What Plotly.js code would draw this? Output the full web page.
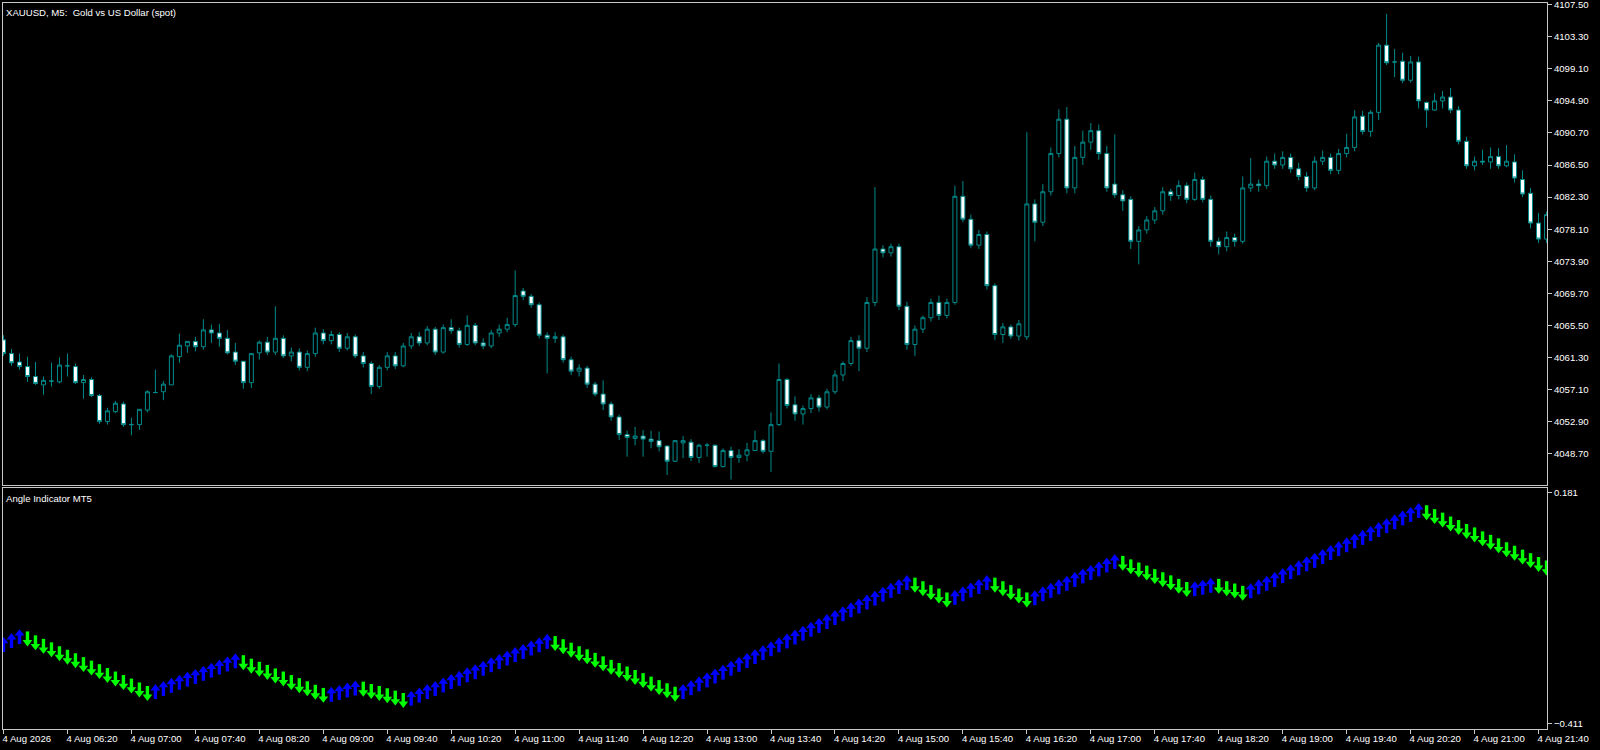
<!DOCTYPE html>
<html><head><meta charset="utf-8">
<script src="https://cdn.plot.ly/plotly-3.0.1.min.js"></script>
<style>html,body{margin:0;padding:0;background:#000;}#chart{width:1600px;height:750px;}</style>
</head><body><div id="chart"></div>
<script>
// ---- data ----
const openP = [4063.6,4061.8,4060.7,4060.1,4058.8,4057.7,4058.2,4058.1,4060.2,4060.1,4058.0,4058.4,4056.3,4052.9,4054.2,4055.2,4052.5,4052.5,4054.4,4056.7,
4056.8,4057.7,4061.4,4062.8,4063.4,4062.7,4064.9,4064.5,4063.8,4062.0,4060.8,4058.0,4061.9,4063.3,4062.0,4063.8,4061.5,4062.0,4060.0,4061.8,
4064.5,4063.5,4064.3,4062.5,4064.0,4061.5,4060.5,4057.5,4060.0,4061.5,4060.2,4062.8,4064.0,4063.2,4065.0,4062.0,4065.2,4064.8,4063.0,4065.5,
4063.2,4062.8,4064.5,4065.0,4065.6,4070.0,4069.3,4068.2,4064.2,4063.8,4064.0,4061.0,4059.5,4059.9,4057.8,4056.5,4055.2,4053.5,4051.2,4050.7,
4051.0,4050.6,4050.4,4049.7,4047.7,4050.1,4050.2,4048.2,4049.8,4049.8,4047.0,4049.1,4048.2,4048.5,4049.1,4050.4,4049.0,4052.5,4058.4,4055.1,
4053.9,4054.6,4056.0,4054.8,4056.8,4059.0,4060.5,4063.5,4062.5,4068.5,4075.5,4075.0,4075.8,4068.0,4063.0,4065.0,4066.5,4068.5,4066.8,4068.5,
4082.4,4079.4,4076.0,4077.4,4070.7,4064.3,4065.3,4064.1,4064.0,4081.4,4079.0,4083.0,4088.0,4092.5,4083.5,4087.5,4089.5,4091.0,4088.0,4084.0,
4082.6,4082.0,4076.5,4078.0,4079.3,4080.5,4083.0,4082.5,4083.8,4082.0,4084.6,4082.0,4076.5,4075.8,4077.0,4076.5,4083.5,4084.0,4083.8,4087.0,
4086.5,4087.5,4086.0,4085.0,4083.5,4087.0,4087.5,4085.8,4088.0,4088.8,4092.9,4090.9,4093.4,4102.2,4100.0,4100.1,4097.6,4100.0,4094.7,4093.7,
4094.9,4095.4,4093.7,4089.6,4086.4,4087.0,4086.9,4087.6,4086.4,4086.9,4084.6,4082.8,4078.9,4076.8];
const highP = [4064.2,4062.4,4061.8,4061.4,4060.7,4058.8,4060.6,4061.3,4061.8,4060.5,4059.0,4058.7,4056.5,4054.7,4055.6,4055.5,4053.4,4054.5,4057.0,4059.7,
4058.2,4061.7,4064.4,4063.4,4064.0,4066.3,4065.6,4065.7,4064.9,4063.2,4060.8,4061.8,4063.5,4064.0,4068.0,4064.2,4062.6,4062.5,4062.2,4065.2,
4065.0,4064.8,4064.6,4064.5,4064.3,4062.0,4060.8,4060.3,4062.0,4062.0,4063.2,4064.5,4064.6,4065.4,4065.3,4065.6,4066.3,4065.2,4066.8,4065.8,
4063.8,4064.9,4065.6,4066.5,4072.7,4070.4,4069.6,4068.5,4064.6,4064.6,4064.3,4061.4,4060.4,4060.2,4058.1,4058.3,4055.5,4053.8,4051.7,4052.2,
4051.8,4051.7,4051.6,4049.7,4050.5,4051.0,4050.6,4050.0,4050.1,4049.9,4049.4,4049.6,4049.3,4050.1,4051.7,4050.6,4054.1,4060.5,4058.6,4056.2,
4055.0,4056.5,4056.4,4057.2,4059.6,4060.8,4064.0,4064.2,4069.2,4083.6,4076.0,4076.2,4076.2,4068.6,4065.5,4066.8,4069.0,4069.4,4069.0,4083.8,
4084.4,4080.0,4078.0,4077.8,4071.0,4065.8,4065.6,4066.2,4090.8,4082.0,4084.0,4088.8,4093.8,4094.1,4089.0,4091.0,4092.0,4091.8,4089.0,4090.5,
4083.2,4082.4,4078.5,4079.8,4081.0,4083.6,4083.4,4084.5,4084.2,4085.5,4085.0,4082.5,4077.0,4077.8,4077.5,4085.0,4087.4,4084.6,4087.6,4088.0,
4088.3,4088.0,4086.8,4085.6,4087.6,4088.4,4088.0,4088.6,4090.6,4093.7,4093.6,4093.7,4102.5,4106.3,4101.7,4101.2,4100.8,4100.7,4094.8,4095.9,
4096.2,4096.6,4094.2,4090.2,4087.6,4088.5,4088.8,4088.7,4089.1,4087.9,4085.8,4083.5,4080.2,4080.4];
const lowP = [4061.5,4060.2,4059.7,4058.1,4057.7,4056.4,4057.5,4057.9,4058.8,4057.8,4055.9,4056.1,4052.6,4052.5,4054.0,4052.2,4051.1,4051.8,4054.1,4056.6,
4055.7,4057.7,4060.6,4061.9,4062.1,4062.3,4063.2,4062.7,4061.7,4060.3,4057.2,4057.3,4061.0,4061.6,4061.6,4061.2,4060.8,4059.6,4059.5,4061.4,
4063.0,4063.0,4062.0,4062.2,4061.2,4060.0,4056.5,4057.2,4059.6,4059.8,4060.0,4062.4,4062.8,4062.9,4061.6,4061.8,4064.4,4062.6,4062.8,4062.9,
4062.4,4062.5,4064.0,4064.6,4065.3,4068.8,4067.8,4063.8,4059.2,4063.2,4060.6,4059.0,4058.8,4057.3,4056.2,4054.4,4053.0,4050.5,4048.3,4049.8,
4048.3,4049.4,4049.0,4045.9,4047.6,4048.1,4047.7,4047.5,4048.3,4046.9,4046.9,4045.3,4047.5,4047.7,4049.1,4048.7,4046.3,4052.3,4054.6,4053.0,
4052.5,4054.0,4054.2,4054.5,4056.5,4058.2,4060.2,4059.5,4062.0,4068.0,4074.4,4074.5,4067.5,4062.3,4061.5,4064.5,4066.0,4066.2,4066.4,4068.2,
4079.0,4075.6,4075.5,4070.2,4063.6,4063.2,4063.7,4063.5,4063.6,4076.5,4078.5,4082.5,4087.5,4082.8,4082.8,4086.5,4088.5,4087.2,4083.0,4082.2,
4080.5,4075.5,4073.5,4077.5,4078.8,4080.0,4081.8,4082.0,4081.5,4081.8,4081.6,4075.8,4074.8,4075.2,4075.8,4076.2,4083.0,4083.0,4083.4,4086.0,
4086.0,4085.5,4084.5,4083.0,4083.2,4086.5,4085.3,4085.3,4087.5,4088.3,4090.5,4090.2,4092.4,4099.6,4098.0,4097.2,4097.3,4093.9,4091.4,4093.6,
4093.9,4093.3,4089.2,4086.0,4085.8,4086.5,4086.0,4086.0,4086.2,4084.2,4082.3,4078.2,4076.3,4076.3];
const closeP = [4061.8,4060.6,4060.1,4058.8,4057.9,4058.3,4058.2,4060.3,4060.2,4058.0,4058.4,4056.3,4052.9,4054.3,4055.3,4052.5,4052.5,4054.5,4056.8,4056.7,
4057.8,4061.5,4062.9,4063.4,4062.7,4064.9,4064.5,4063.8,4061.9,4060.8,4058.0,4061.8,4063.3,4062.0,4063.8,4061.5,4062.0,4060.0,4061.8,4064.5,
4063.5,4064.3,4062.5,4064.0,4061.5,4060.5,4057.5,4060.0,4061.5,4060.2,4062.8,4064.0,4063.2,4065.0,4062.0,4065.2,4064.8,4063.0,4065.5,4063.2,
4062.8,4064.5,4065.0,4065.6,4069.4,4069.3,4068.2,4064.2,4063.8,4064.0,4061.0,4059.5,4059.9,4057.8,4056.5,4055.2,4053.5,4051.2,4050.8,4051.0,
4050.6,4050.3,4049.6,4047.7,4050.4,4050.4,4048.2,4049.8,4049.8,4047.0,4049.1,4048.2,4048.5,4049.2,4050.4,4049.0,4052.5,4058.4,4055.0,4053.9,
4054.6,4056.0,4054.8,4056.8,4059.0,4060.5,4063.5,4062.5,4068.5,4075.5,4075.0,4075.8,4068.0,4063.0,4065.0,4066.5,4068.5,4066.8,4068.5,4082.4,
4079.4,4076.0,4077.4,4070.7,4064.3,4065.3,4064.1,4065.7,4081.4,4079.0,4083.0,4088.0,4092.5,4083.5,4087.5,4089.5,4091.0,4088.0,4083.5,4082.6,
4081.8,4076.5,4078.0,4079.3,4080.5,4083.0,4082.5,4083.8,4082.0,4084.6,4082.0,4076.5,4075.8,4077.0,4076.5,4083.5,4084.0,4083.8,4087.0,4086.5,
4087.5,4086.0,4085.0,4083.5,4087.0,4087.5,4085.8,4088.0,4088.8,4092.8,4090.9,4093.4,4102.2,4099.9,4100.0,4097.6,4100.0,4094.9,4093.7,4094.9,
4095.4,4093.7,4089.6,4086.4,4087.0,4086.9,4087.6,4086.4,4087.0,4084.8,4082.7,4078.9,4076.8,4080.0];
const angleVals = [-0.207,-0.197,-0.187,
-0.196,-0.206,-0.215,-0.224,-0.234,-0.243,-0.252,-0.262,-0.271,-0.280,-0.290,-0.299,-0.308,-0.317,-0.327,-0.336,
-0.328,-0.320,-0.312,-0.304,-0.296,-0.289,-0.281,-0.273,-0.265,-0.257,-0.249,
-0.257,-0.266,-0.274,-0.282,-0.291,-0.299,-0.308,-0.316,-0.324,-0.333,-0.341,
-0.335,-0.330,-0.324,-0.319,
-0.325,-0.331,-0.336,-0.342,-0.348,-0.354,
-0.345,-0.337,-0.328,-0.320,-0.311,-0.302,-0.294,-0.285,-0.277,-0.268,-0.259,-0.251,-0.242,-0.233,-0.225,-0.216,-0.208,-0.199,
-0.208,-0.216,-0.225,-0.234,-0.242,-0.251,-0.260,-0.269,-0.277,-0.286,-0.295,-0.303,-0.312,-0.321,-0.329,-0.338,
-0.328,-0.318,-0.308,-0.298,-0.288,-0.278,-0.268,-0.258,-0.248,-0.238,-0.228,-0.218,-0.208,-0.198,-0.188,-0.178,-0.168,-0.158,-0.148,-0.138,-0.128,-0.118,-0.108,-0.098,-0.088,-0.078,-0.068,-0.058,-0.048,
-0.058,-0.067,-0.077,-0.086,-0.096,
-0.086,-0.077,-0.067,-0.058,-0.048,
-0.058,-0.067,-0.077,-0.086,-0.096,
-0.087,-0.077,-0.068,-0.059,-0.050,-0.040,-0.031,-0.022,-0.013,-0.003,0.006,
-0.002,-0.011,-0.019,-0.027,-0.036,-0.044,-0.052,-0.061,-0.069,
-0.064,-0.060,-0.055,
-0.061,-0.067,-0.073,-0.079,
-0.069,-0.059,-0.050,-0.040,-0.030,-0.020,-0.010,0.000,0.009,0.019,0.029,0.039,0.049,0.059,0.068,0.078,0.088,0.098,0.108,0.118,0.127,0.137,
0.128,0.118,0.109,0.099,0.090,0.080,0.071,0.061,0.052,0.043,0.033,0.024,0.014,0.005,-0.005,-0.014];
const tickBars = [0,8,16,24,32,40,48,56,64,72,80,88,96,104,112,120,128,136,144,152,160,168,176,184,192];
const tickLabels = ['4 Aug 2026','4 Aug 06:20','4 Aug 07:00','4 Aug 07:40','4 Aug 08:20','4 Aug 09:00','4 Aug 09:40','4 Aug 10:20',
'4 Aug 11:00','4 Aug 11:40','4 Aug 12:20','4 Aug 13:00','4 Aug 13:40','4 Aug 14:20','4 Aug 15:00','4 Aug 15:40','4 Aug 16:20',
'4 Aug 17:00','4 Aug 17:40','4 Aug 18:20','4 Aug 19:00','4 Aug 19:40','4 Aug 20:20','4 Aug 21:00','4 Aug 21:40'];
const priceTicks = [4107.5,4103.3,4099.1,4094.9,4090.7,4086.5,4082.3,4078.1,4073.9,4069.7,4065.5,4061.3,4057.1,4052.9,4048.7];
const angleTicks = [0.181,-0.411];
const chartTitle = 'XAUUSD, M5:  Gold vs US Dollar (spot)';
const paneTitle = 'Angle Indicator MT5';

// ---- styling / geometry ----
const W = 1600, H = 750;
const M = {l: 3, r: 53, t: 3, b: 21};
const plotH = H - M.t - M.b;
const mainBottomPx = 485, indTopPx = 488;
const yRange = [4044.59, 4107.72];
const y2Range = [-0.4257, 0.1931];
const FG = '#C8C8C8', TEAL = '#008B8B', BLUE = '#0000FF', GREEN = '#00FF00';
const FONT = {family: 'Liberation Sans, Arial, sans-serif', size: 9.6, color: '#FFFFFF'};

const idx = closeP.map((_, i) => i);
const unitPerPx = (y2Range[1] - y2Range[0]) / (H - M.b - indTopPx);

const up = [], dn = [];
angleVals.forEach((v, i) => {
  if (i === 0 || v > angleVals[i - 1]) up.push(i); else dn.push(i);
});
function arrowTraces(list, color, isUp) {
  const s = isUp ? 1 : -1;
  return [
    {type: 'scatter', mode: 'markers', xaxis: 'x2', yaxis: 'y2', hoverinfo: 'skip',
     x: list, y: list.map(i => angleVals[i] - s * 2.5 * unitPerPx),
     marker: {symbol: 'line-ns', size: 8, line: {color: color, width: 3.4}}},
    {type: 'scatter', mode: 'markers', xaxis: 'x2', yaxis: 'y2', hoverinfo: 'skip',
     x: list, y: list.map(i => angleVals[i] + s * 2.6 * unitPerPx),
     marker: {symbol: isUp ? 'triangle-up' : 'triangle-down', size: 8.5, color: color, line: {width: 0}}}
  ];
}

const traces = [
  {type: 'candlestick', x: idx, open: openP, high: highP, low: lowP, close: closeP,
   xaxis: 'x', yaxis: 'y', hoverinfo: 'skip', whiskerwidth: 0,
   increasing: {line: {color: TEAL, width: 1}, fillcolor: '#000000'},
   decreasing: {line: {color: TEAL, width: 1}, fillcolor: '#FFFFFF'}},
  ...arrowTraces(up, BLUE, true),
  ...arrowTraces(dn, GREEN, false)
];

const xRange = [-0.0625, 193.06];
const layout = {
  width: W, height: H, margin: M,
  paper_bgcolor: '#000000', plot_bgcolor: '#000000',
  showlegend: false, font: FONT, boxgap: 0.5, boxgroupgap: 0,
  xaxis: {domain: [0, 1], range: xRange, anchor: 'y', showgrid: false, zeroline: false,
    showticklabels: false, ticks: '', showline: true, mirror: true, linecolor: FG, linewidth: 1,
    rangeslider: {visible: false}, fixedrange: true},
  yaxis: {domain: [(H - M.b - mainBottomPx) / plotH, 1], range: yRange, side: 'right', anchor: 'x',
    tickvals: priceTicks, tickformat: '.2f', ticks: 'outside', ticklen: 4, tickcolor: FG,
    ticklabeloverflow: 'allow',
    showline: true, mirror: true, linecolor: FG, linewidth: 1, showgrid: false, zeroline: false,
    tickfont: FONT, fixedrange: true},
  xaxis2: {domain: [0, 1], range: xRange, anchor: 'y2', matches: 'x', showgrid: false, zeroline: false,
    tickvals: tickBars, ticktext: tickLabels, ticks: 'outside', ticklen: 4, tickcolor: FG,
    ticklabelposition: 'outside right', ticklabelshift: -2, tickfont: FONT, ticklabeloverflow: 'allow',
    showline: true, mirror: true, linecolor: FG, linewidth: 1, fixedrange: true},
  yaxis2: {domain: [0, (H - M.b - indTopPx) / plotH], range: y2Range, side: 'right', anchor: 'x2',
    tickvals: angleTicks, tickformat: '.3f', ticks: 'outside', ticklen: 4, tickcolor: FG,
    ticklabeloverflow: 'allow',
    showline: true, mirror: true, linecolor: FG, linewidth: 1, showgrid: false, zeroline: false,
    tickfont: FONT, fixedrange: true},
  annotations: [
    {text: chartTitle, xref: 'paper', yref: 'paper', x: 0, y: 1, xanchor: 'left', yanchor: 'top',
     xshift: 1, yshift: -2, showarrow: false, font: FONT},
    {text: paneTitle, xref: 'paper', yref: 'paper', x: 0, y: (H - M.b - indTopPx) / plotH,
     xanchor: 'left', yanchor: 'top', xshift: 1, yshift: -3, showarrow: false, font: FONT}
  ]
};
Plotly.newPlot('chart', traces, layout, {staticPlot: true, displayModeBar: false});
</script></body></html>
